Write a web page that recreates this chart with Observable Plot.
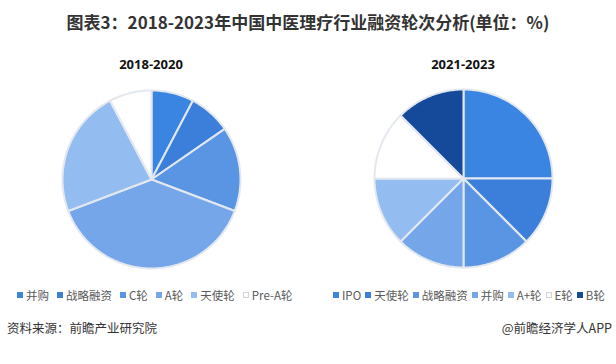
<!DOCTYPE html>
<html>
<head>
<meta charset="utf-8">
<script src="https://cdn.jsdelivr.net/npm/d3@7"></script>
<script src="https://cdn.jsdelivr.net/npm/@observablehq/plot@0.6"></script>
<style>
  html, body { margin: 0; padding: 0; background: #fff; }
  #root { position: relative; width: 616px; height: 364px; overflow: hidden; font-family: "Noto Sans CJK SC", "Noto Sans", sans-serif; }
  .abs { position: absolute; }
  #title { left: 0; width: 616px; top: 10px; text-align: center; font-size: 17px; font-weight: 700; color: #333; line-height: 24px; letter-spacing: 0px; }
  .sub { width: 200px; text-align: center; font-family: "Open Sans", sans-serif; font-weight: 700; font-size: 13px; color: #111; line-height: 18px; }
  .legend { display: flex; align-items: center; font-size: 11.5px; color: #595959; line-height: 16px; white-space: nowrap; }
  .legend .item { display: flex; align-items: center; }
  .legend .sw { width: 6px; height: 6px; margin-right: 3px; box-sizing: border-box; }
  .foot { font-size: 12.5px; color: #333; line-height: 18px; }
</style>
</head>
<body>
<div id="root">
  <div id="title" class="abs"></div>
  <div id="subL" class="abs sub"></div>
  <div id="subR" class="abs sub"></div>
  <div id="pieL" class="abs"></div>
  <div id="pieR" class="abs"></div>
  <div id="legL" class="abs legend"></div>
  <div id="legR" class="abs legend"></div>
  <div id="footL" class="abs foot"></div>
  <div id="footR" class="abs foot"></div>
</div>
<script>
const titleText = "图表3：2018-2023年中国中医理疗行业融资轮次分析(单位：%)";
const leftTitle = "2018-2020";
const rightTitle = "2021-2023";
const leftCategories = ["并购", "战略融资", "C轮", "A轮", "天使轮", "Pre-A轮"];
const leftValues = [7.7, 7.7, 15.4, 38.5, 23.1, 7.7];
const rightCategories = ["IPO", "天使轮", "战略融资", "并购", "A+轮", "E轮", "B轮"];
const rightValues = [25, 12.5, 12.5, 12.5, 12.5, 12.5, 12.5];
const palette = ["#3a85e2", "#3c7fdb", "#5a95e3", "#74a6e9", "#93bcf0", "#ffffff", "#154a9b"];
const sourceText = "资料来源：前瞻产业研究院";
const brandText = "@前瞻经济学人APP";

document.getElementById("title").textContent = titleText;

const R = 89;          // pie radius in px
const S = 188;         // svg size
const D = S / 2 / R;   // domain half-extent in unit-radius space

function piePoints(cats, vals) {
  const arcs = d3.pie().sort(null).value(d => d)(vals);
  const pts = [];
  arcs.forEach((a, i) => {
    const name = cats[i];
    pts.push({name, x: 0, y: 0});
    const n = Math.max(2, Math.ceil((a.endAngle - a.startAngle) / (Math.PI / 180)));
    for (let k = 0; k <= n; k++) {
      const t = a.startAngle + (a.endAngle - a.startAngle) * k / n;
      pts.push({name, x: Math.sin(t), y: Math.cos(t)});
    }
  });
  return pts;
}

function pie(cats, vals) {
  return Plot.plot({
    width: S, height: S,
    margin: 0,
    x: {domain: [-D, D], axis: null},
    y: {domain: [-D, D], axis: null},
    color: {domain: cats, range: palette.slice(0, cats.length)},
    marks: [
      Plot.line(piePoints(cats, vals), {
        x: "x", y: "y", z: "name", fill: "name",
        stroke: "#e3e8ef", strokeWidth: 2, strokeLinejoin: "round",
        curve: "linear-closed"
      })
    ]
  });
}

function legend(el, cats, gap) {
  cats.forEach((c, i) => {
    const item = document.createElement("div");
    item.className = "item";
    if (i < cats.length - 1) item.style.marginRight = gap + "px";
    const sw = document.createElement("div");
    sw.className = "sw";
    sw.style.background = palette[i];
    if (palette[i] === "#ffffff") sw.style.border = "1px solid #cfd4da";
    const t = document.createElement("span");
    t.textContent = c;
    item.appendChild(sw); item.appendChild(t);
    el.appendChild(item);
  });
}

const cxL = 151, cyL = 179, cxR = 463, cyR = 178;
const subL = document.getElementById("subL");
subL.textContent = leftTitle; subL.style.left = (cxL - 100) + "px"; subL.style.top = "55px";
const subR = document.getElementById("subR");
subR.textContent = rightTitle; subR.style.left = (cxR - 100) + "px"; subR.style.top = "55px";

const pL = document.getElementById("pieL");
pL.style.left = (cxL - S / 2) + "px"; pL.style.top = (cyL - S / 2) + "px";
pL.appendChild(pie(leftCategories, leftValues));
const pR = document.getElementById("pieR");
pR.style.left = (cxR - S / 2) + "px"; pR.style.top = (cyR - S / 2) + "px";
pR.appendChild(pie(rightCategories, rightValues));

const lL = document.getElementById("legL");
lL.style.left = "17px"; lL.style.top = "287px";
legend(lL, leftCategories, 8);
const lR = document.getElementById("legR");
lR.style.left = "333px"; lR.style.top = "287px";
legend(lR, rightCategories, 4);

const fL = document.getElementById("footL");
fL.textContent = sourceText; fL.style.left = "7px"; fL.style.top = "319px";
const fR = document.getElementById("footR");
fR.textContent = brandText; fR.style.right = "4px"; fR.style.top = "319px";
</script>
</body>
</html>
